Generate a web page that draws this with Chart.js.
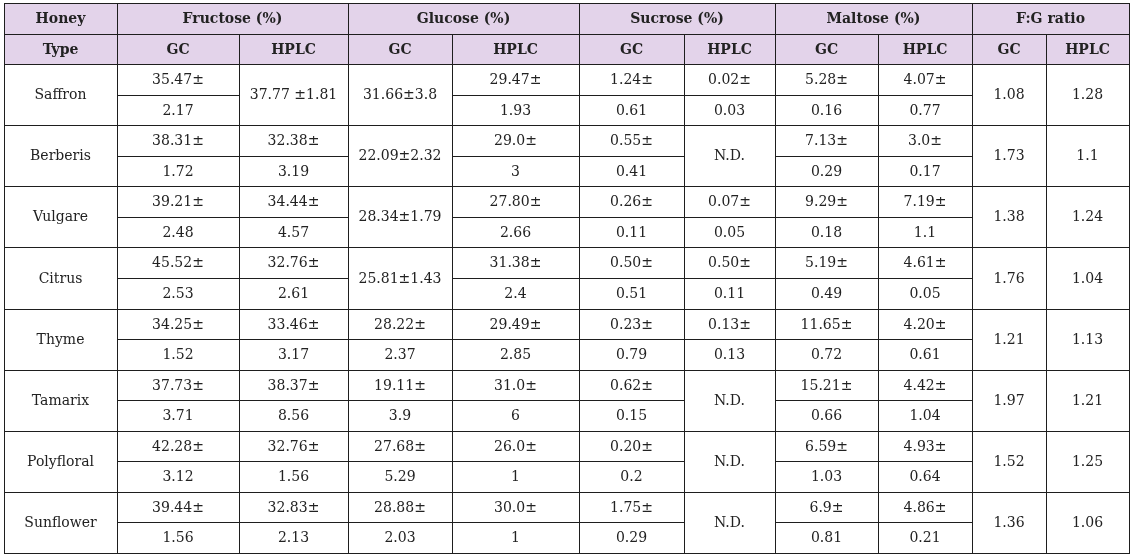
<!DOCTYPE html>
<html>
<head>
<meta charset="utf-8">
<title>Honey sugars</title>
<script src="https://cdn.jsdelivr.net/npm/chart.js@4"></script>
<style>
  html, body { margin: 0; padding: 0; background: #fff; }
  #wrap { width: 1134px; height: 559px; position: relative; }
</style>
</head>
<body>
<div id="wrap"><canvas id="tableChart"></canvas></div>
<script>
// Date tabel
// string = celulă unită, [sus, jos] = celulă pe două rânduri
const honeyTypes = ['Saffron', 'Berberis', 'Vulgare', 'Citrus', 'Thyme', 'Tamarix', 'Polyfloral', 'Sunflower'];
const groupLabels = ['Fructose (%)', 'Glucose (%)', 'Sucrose (%)', 'Maltose (%)', 'F:G ratio'];
const methodLabels = ['GC', 'HPLC'];

const fructoseGC = [['35.47±', '2.17'], ['38.31±', '1.72'], ['39.21±', '2.48'], ['45.52±', '2.53'], ['34.25±', '1.52'], ['37.73±', '3.71'], ['42.28±', '3.12'], ['39.44±', '1.56']];
const fructoseHPLC = ['37.77 ±1.81', ['32.38±', '3.19'], ['34.44±', '4.57'], ['32.76±', '2.61'], ['33.46±', '3.17'], ['38.37±', '8.56'], ['32.76±', '1.56'], ['32.83±', '2.13']];
const glucoseGC = ['31.66±3.8', '22.09±2.32', '28.34±1.79', '25.81±1.43', ['28.22±', '2.37'], ['19.11±', '3.9'], ['27.68±', '5.29'], ['28.88±', '2.03']];
const glucoseHPLC = [['29.47±', '1.93'], ['29.0±', '3'], ['27.80±', '2.66'], ['31.38±', '2.4'], ['29.49±', '2.85'], ['31.0±', '6'], ['26.0±', '1'], ['30.0±', '1']];
const sucroseGC = [['1.24±', '0.61'], ['0.55±', '0.41'], ['0.26±', '0.11'], ['0.50±', '0.51'], ['0.23±', '0.79'], ['0.62±', '0.15'], ['0.20±', '0.2'], ['1.75±', '0.29']];
const sucroseHPLC = [['0.02±', '0.03'], 'N.D.', ['0.07±', '0.05'], ['0.50±', '0.11'], ['0.13±', '0.13'], 'N.D.', 'N.D.', 'N.D.'];
const maltoseGC = [['5.28±', '0.16'], ['7.13±', '0.29'], ['9.29±', '0.18'], ['5.19±', '0.49'], ['11.65±', '0.72'], ['15.21±', '0.66'], ['6.59±', '1.03'], ['6.9±', '0.81']];
const maltoseHPLC = [['4.07±', '0.77'], ['3.0±', '0.17'], ['7.19±', '1.1'], ['4.61±', '0.05'], ['4.20±', '0.61'], ['4.42±', '1.04'], ['4.93±', '0.64'], ['4.86±', '0.21']];
const ratioGC = ['1.08', '1.73', '1.38', '1.76', '1.21', '1.97', '1.52', '1.36'];
const ratioHPLC = ['1.28', '1.1', '1.24', '1.04', '1.13', '1.21', '1.25', '1.06'];

const valueColumns = [fructoseGC, fructoseHPLC, glucoseGC, glucoseHPLC, sucroseGC, sucroseHPLC, maltoseGC, maltoseHPLC, ratioGC, ratioHPLC];

// Aspect (lățimi coloane în unități de axă x)
const colWidths = [113, 122, 109, 104, 127, 105, 91, 103, 94, 74, 83];
const colEdges = colWidths.reduce((acc, w) => { acc.push(acc[acc.length - 1] + w); return acc; }, [0]);
const headerRows = 2;
const totalRows = headerRows + honeyTypes.length * 2;

const HEADER_BG = '#e3d3ea';
const LINE = '#1e1e1e';
const TEXT = '#222222';
const FONT = '14px "DejaVu Serif"';
const FONT_BOLD = 'bold 14px "DejaVu Serif"';

// Plugin care desenează celulele prin scalele graficului
const tablePlugin = {
    id: 'honeyTable',
    afterDraw(chart) {
        const { ctx, scales: { x, y } } = chart;
        const px = (v) => x.getPixelForValue(v);
        const py = (v) => y.getPixelForValue(v);

        const cell = (c0, c1, r0, r1, text, opts = {}) => {
            const x0 = Math.round(px(colEdges[c0]));
            const x1 = Math.round(px(colEdges[c1]));
            const y0 = Math.round(py(r0));
            const y1 = Math.round(py(r1));
            if (opts.fill) {
                ctx.fillStyle = opts.fill;
                ctx.fillRect(x0, y0, x1 - x0, y1 - y0);
            }
            ctx.strokeStyle = LINE;
            ctx.lineWidth = 1;
            ctx.strokeRect(x0 + 0.5, y0 + 0.5, x1 - x0, y1 - y0);
            if (text !== undefined && text !== '') {
                ctx.fillStyle = TEXT;
                ctx.font = opts.bold ? FONT_BOLD : FONT;
                ctx.textAlign = 'center';
                ctx.textBaseline = 'middle';
                ctx.fillText(text, (x0 + x1) / 2, (y0 + y1) / 2 + 1);
            }
        };

        ctx.save();
        // Antet
        cell(0, 1, 0, 1, 'Honey', { fill: HEADER_BG, bold: true });
        cell(0, 1, 1, 2, 'Type', { fill: HEADER_BG, bold: true });
        groupLabels.forEach((label, g) => {
            const c = 1 + g * 2;
            cell(c, c + 2, 0, 1, label, { fill: HEADER_BG, bold: true });
            methodLabels.forEach((m, k) => {
                cell(c + k, c + k + 1, 1, 2, m, { fill: HEADER_BG, bold: true });
            });
        });

        // Rânduri cu date
        honeyTypes.forEach((name, i) => {
            const r = headerRows + i * 2;
            cell(0, 1, r, r + 2, name);
            valueColumns.forEach((col, j) => {
                const v = col[i];
                const c = j + 1;
                if (Array.isArray(v)) {
                    cell(c, c + 1, r, r + 1, v[0]);
                    cell(c, c + 1, r + 1, r + 2, v[1]);
                } else {
                    cell(c, c + 1, r, r + 2, v);
                }
            });
        });
        ctx.restore();
    }
};

document.addEventListener('DOMContentLoaded', () => {
    const canvas = document.getElementById('tableChart');
    new Chart(canvas.getContext('2d'), {
        type: 'scatter',
        data: { datasets: [] },
        options: {
            responsive: true,
            maintainAspectRatio: false,
            animation: false,
            events: [],
            layout: { padding: { left: 4, top: 3, right: 5, bottom: 6 } },
            plugins: {
                legend: { display: false },
                tooltip: { enabled: false }
            },
            scales: {
                x: { type: 'linear', min: 0, max: colEdges[colEdges.length - 1], display: false },
                y: { type: 'linear', min: 0, max: totalRows, reverse: true, display: false }
            }
        },
        plugins: [tablePlugin]
    });
});
</script>
</body>
</html>
